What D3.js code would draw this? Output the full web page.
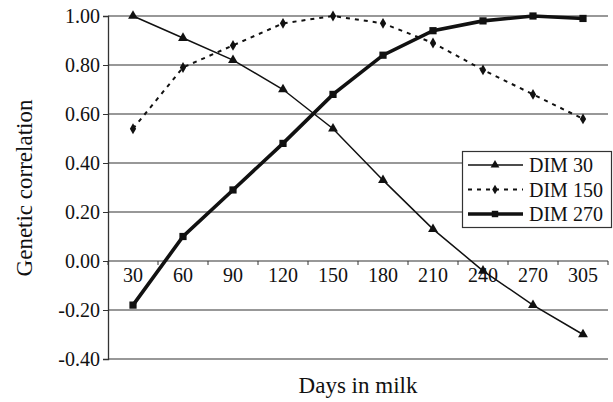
<!DOCTYPE html>
<html>
<head>
<meta charset="utf-8">
<script src="https://cdn.jsdelivr.net/npm/d3@7"></script>
<style>
  html, body { margin: 0; padding: 0; background: #fff; }
  svg, svg text { font-family: "Liberation Serif", "Times New Roman", Tinos, serif !important; }
</style>
</head>
<body>
<svg id="chart" width="613" height="402"></svg>
<script>
const categories = ["30", "60", "90", "120", "150", "180", "210", "240", "270", "305"];
const dim30  = [1.00, 0.91, 0.82, 0.70, 0.54, 0.33, 0.13, -0.04, -0.18, -0.30];
const dim150 = [0.54, 0.79, 0.88, 0.97, 1.00, 0.97, 0.89, 0.78, 0.68, 0.58];
const dim270 = [-0.18, 0.10, 0.29, 0.48, 0.68, 0.84, 0.94, 0.98, 1.00, 0.99];
const seriesNames = ["DIM 30", "DIM 150", "DIM 270"];
const yTicks = [-0.4, -0.2, 0.0, 0.2, 0.4, 0.6, 0.8, 1.0];

const svg = d3.select("#chart");
const pLeft = 108, pRight = 608, pTop = 16, pBottom = 359;
const ink = "#111";

const x = d3.scaleBand().domain(categories).range([pLeft, pRight]).padding(0);
const xc = d => x(d) + x.bandwidth() / 2;
const y = d3.scaleLinear().domain([-0.4, 1.0]).range([pBottom, pTop]);

// gridlines
svg.append("g").selectAll("line").data(yTicks).join("line")
  .attr("x1", pLeft).attr("x2", pRight)
  .attr("y1", d => y(d)).attr("y2", d => y(d))
  .attr("stroke", "#333").attr("stroke-width", 1.1);

// y axis
const fmt = d3.format(".2f");
const yAxis = d3.axisLeft(y).tickValues(yTicks).tickFormat(fmt).tickSize(5).tickPadding(3);
const gy = svg.append("g").attr("transform", `translate(${pLeft},0)`).call(yAxis);
gy.attr("font-family", null).attr("font-size", null);
gy.select(".domain").attr("stroke", "#333").attr("stroke-width", 1.3);
gy.selectAll(".tick line").attr("stroke", "#333");
gy.selectAll(".tick text").attr("font-size", 20).attr("fill", ink)
  .text(d => d < 0 ? "-" + fmt(-d) : fmt(Math.abs(d)));

// x axis at y = 0
const gx = svg.append("g").attr("transform", `translate(0,${y(0)})`)
  .call(d3.axisBottom(x).tickSize(0).tickPadding(7));
gx.attr("font-family", null).attr("font-size", null);
gx.select(".domain").remove();
gx.selectAll(".tick text").attr("font-size", 20).attr("fill", ink);
const bounds = categories.map(d => x(d)).concat([pRight]);
svg.append("g").selectAll("line").data(bounds).join("line")
  .attr("x1", d => d).attr("x2", d => d)
  .attr("y1", y(0)).attr("y2", y(0) + 4)
  .attr("stroke", "#333").attr("stroke-width", 1);

// series
const series = [
  { name: seriesNames[0], values: dim30, width: 1.5, dash: null, symbol: d3.symbolTriangle, size: 42 },
  { name: seriesNames[1], values: dim150, width: 2, dash: "4,5", symbol: d3.symbolDiamond, size: 34 },
  { name: seriesNames[2], values: dim270, width: 3.6, dash: null, symbol: d3.symbolSquare, size: 52 }
];

const line = d3.line().x((d, i) => xc(categories[i])).y(d => y(d));
series.forEach(s => {
  svg.append("path").datum(s.values)
    .attr("d", line).attr("fill", "none").attr("stroke", ink)
    .attr("stroke-width", s.width).attr("stroke-dasharray", s.dash);
  svg.append("g").selectAll("path").data(s.values).join("path")
    .attr("transform", (d, i) => `translate(${xc(categories[i])},${y(d)})`)
    .attr("d", d3.symbol().type(s.symbol).size(s.size)).attr("fill", ink);
});

// legend
const lg = svg.append("g");
lg.append("rect").attr("x", 462.5).attr("y", 151.5).attr("width", 149).attr("height", 76)
  .attr("fill", "#fff").attr("stroke", "#333").attr("stroke-width", 1.2);
series.forEach((s, i) => {
  const cy = 165 + i * 24.5;
  lg.append("line").attr("x1", 468).attr("x2", 523).attr("y1", cy).attr("y2", cy)
    .attr("stroke", ink).attr("stroke-width", s.width).attr("stroke-dasharray", s.dash);
  lg.append("path").attr("transform", `translate(495,${cy})`)
    .attr("d", d3.symbol().type(s.symbol).size(s.size * 0.8)).attr("fill", ink);
  lg.append("text").attr("x", 529).attr("y", cy).attr("dy", "0.35em")
    .attr("font-size", 20).attr("fill", ink).text(s.name);
});

// axis titles
svg.append("text").attr("x", (pLeft + pRight) / 2).attr("y", 393)
  .attr("text-anchor", "middle").attr("font-size", 23).attr("fill", ink).text("Days in milk");
svg.append("text").attr("transform", "translate(32,188) rotate(-90)")
  .attr("text-anchor", "middle").attr("font-size", 23).attr("fill", ink).text("Genetic correlation");
</script>
</body>
</html>
